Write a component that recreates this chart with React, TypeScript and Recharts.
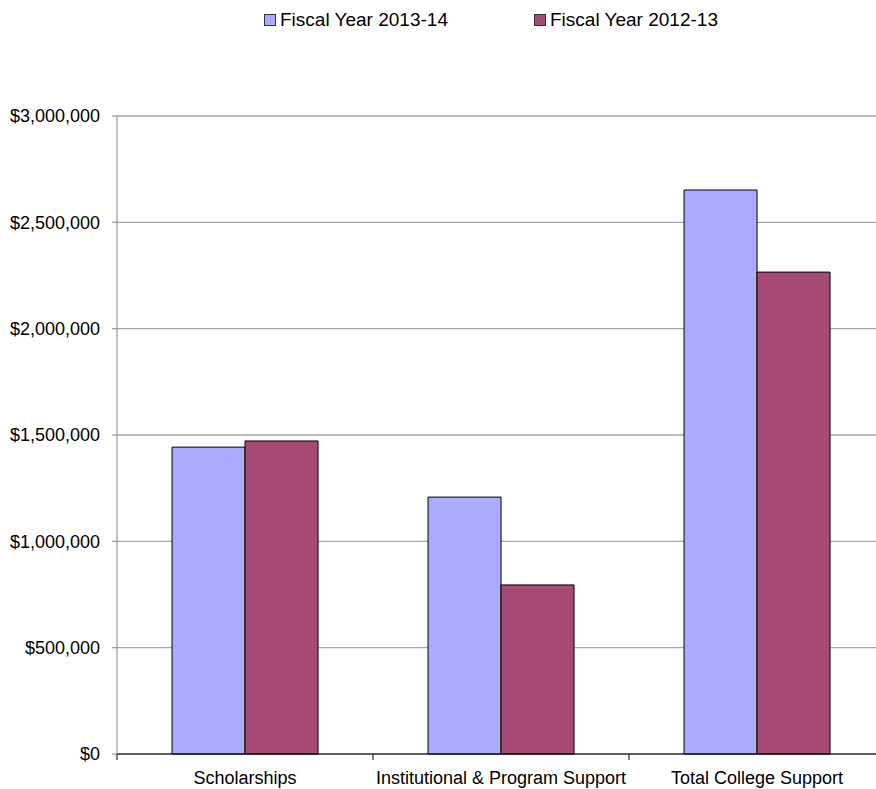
import { BarChart, Bar, XAxis, YAxis, CartesianGrid } from 'recharts';

const categories = ['Scholarships', 'Institutional & Program Support', 'Total College Support'];
const fy1314 = [1443000, 1208000, 2652000];
const fy1213 = [1472000, 795000, 2266000];
const seriesNames = ['Fiscal Year 2013-14', 'Fiscal Year 2012-13'];
const yTicks = [0, 500000, 1000000, 1500000, 2000000, 2500000, 3000000];

const colors = ['#AAAAFF', '#A84A76'];
const font = '"Liberation Sans", Arial, Helvetica, sans-serif';

const data = categories.map((name, i) => ({ name, a: fy1314[i], b: fy1213[i] }));

const formatMoney = (v: number) => '$' + v.toLocaleString('en-US');

const CategoryTick = (props: any) => {
    const { x, y, payload, width, visibleTicksCount } = props;
    const band = width && visibleTicksCount ? width / visibleTicksCount : 256;
    return (
        <g>
            <line x1={x - band / 2} x2={x - band / 2} y1={y - 6} y2={y} stroke="#000" strokeWidth={1} />
            <text x={x} y={y} dy={24} textAnchor="middle" fill="#000" fontSize={18} fontFamily={font}>
                {payload.value}
            </text>
        </g>
    );
};

export default function App() {
    return (
        <div style={{ position: 'absolute', left: 0, top: 0, width: 876, height: 789, overflow: 'hidden', background: '#fff' }}>
            {seriesNames.map((s, i) => (
                <div
                    key={s}
                    style={{
                        position: 'absolute',
                        left: 264 + i * 270,
                        top: 9,
                        display: 'flex',
                        alignItems: 'center',
                        fontFamily: font,
                        fontSize: 19,
                        color: '#000',
                        whiteSpace: 'nowrap',
                    }}
                >
                    <span style={{ width: 10, height: 10, background: colors[i], border: '1px solid #333', marginRight: 4 }} />
                    {s}
                </div>
            ))}
            <BarChart
                width={890}
                height={789}
                data={data}
                margin={{ top: 116, right: 5, left: 0, bottom: 0 }}
                barCategoryGap="21.5%"
                barGap={0}
            >
                <CartesianGrid vertical={false} stroke="#A6A6A6" strokeWidth={1.3} />
                <XAxis
                    dataKey="name"
                    height={35}
                    tickSize={6}
                    tickMargin={0}
                    tickLine={false}
                    stroke="#000"
                    tick={<CategoryTick />}
                    interval={0}
                />
                <YAxis
                    width={117}
                    domain={[0, 3000000]}
                    ticks={yTicks}
                    tickFormatter={formatMoney}
                    stroke="#A0A0A0"
                    strokeWidth={1.3}
                    tickSize={5}
                    tickMargin={12}
                    tick={{ fill: '#000', fontSize: 18, fontFamily: font }}
                />
                <Bar dataKey="a" name={seriesNames[0]} fill={colors[0]} stroke="#000" strokeWidth={1} isAnimationActive={false} />
                <Bar dataKey="b" name={seriesNames[1]} fill={colors[1]} stroke="#000" strokeWidth={1} isAnimationActive={false} />
            </BarChart>
        </div>
    );
}
